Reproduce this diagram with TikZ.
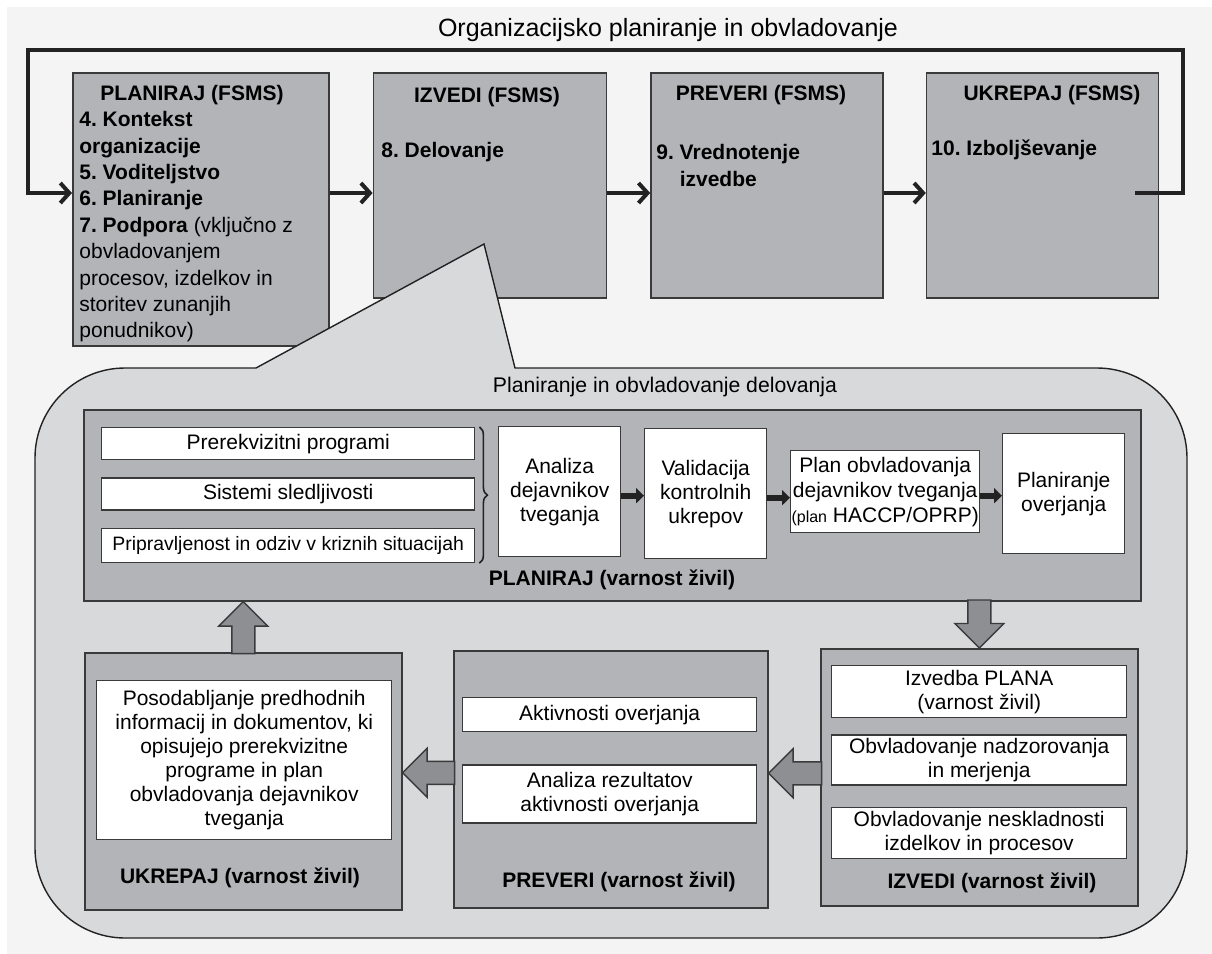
\documentclass[tikz,border=0pt]{standalone}
\usepackage{fontspec}
\setmainfont{Liberation Sans}
\usepackage{tikz}
\usetikzlibrary{arrows.meta,positioning,decorations.pathreplacing}
\usepackage{xcolor}
\definecolor{page-grey}{HTML}{F4F4F4}
\definecolor{box-grey}{HTML}{B3B4B7}
\definecolor{callout-grey}{HTML}{D8D9DB}
\definecolor{arrow-grey}{HTML}{8E8F93}
\definecolor{line-dark}{HTML}{222222}
\definecolor{edge-dark}{HTML}{3A3A3A}
\frenchspacing

\tikzset{pics/blockarrow/.style={code={
  \filldraw[draw=edge-dark, fill=arrow-grey, line width=0.7pt]
    (0,0) -- (-12.25pt,12.25pt) -- (-12.25pt,5.75pt) -- (-#1,5.75pt)
    -- (-#1,-5.75pt) -- (-12.25pt,-5.75pt) -- (-12.25pt,-12.25pt) -- cycle;}}}

\begin{document}
\begin{tikzpicture}[x=0.5pt, y=-0.5pt, >={Straight Barb[length=4.5pt,width=10pt]}]
  \tikzstyle{fsms}=[draw=edge-dark, fill=box-grey, line width=0.8pt, anchor=north west, inner sep=0pt]
  \tikzstyle{phase}=[draw=edge-dark, fill=box-grey, line width=0.8pt, anchor=north west, inner sep=0pt]
  \tikzstyle{wbox}=[draw=edge-dark, fill=white, line width=0.7pt, anchor=north west, inner sep=0pt, align=center, font=\fontsize{10.5}{12}\selectfont]
  \tikzstyle{fsmshead}=[inner sep=0pt, font=\bfseries\fontsize{10.5}{12.6}\selectfont]
  \tikzstyle{fsmsbody}=[inner sep=0pt, align=left, font=\bfseries\fontsize{10.5}{13.2}\selectfont]
  \tikzstyle{phaselabel}=[inner sep=0pt, font=\bfseries\fontsize{10.5}{12.6}\selectfont]
  \tikzstyle{flow}=[->, line width=2pt, draw=line-dark]
  \tikzstyle{loopline}=[->, line width=2pt, draw=line-dark, line join=miter]
  \tikzstyle{minorflow}=[-{Triangle[length=4pt,width=7.5pt]}, line width=3pt, draw=line-dark]

  \useasboundingbox (0,0) rectangle (1212,954);
  \fill[page-grey] (7,7) rectangle (1212,954);

  %% organisation level (FSMS)
  \node[font=\fontsize{12.5}{15}\selectfont] (orgtitle) at (668,30) {Organizacijsko planiranje in obvladovanje};

  \node[fsms, minimum width=128pt, minimum height=136.5pt] (pfsms) at (72,72) {};
  \node[fsms, minimum width=116.5pt, minimum height=112.5pt] (dfsms) at ([xshift=21.5pt]pfsms.north east) {};
  \node[fsms, minimum width=116pt, minimum height=112.5pt] (cfsms) at ([xshift=21.5pt]dfsms.north east) {};
  \node[fsms, minimum width=116pt, minimum height=112.5pt] (afsms) at ([xshift=21pt]cfsms.north east) {};

  \node[fsmshead] (phead) at (192,95) {PLANIRAJ (FSMS)};
  \node[fsmsbody, anchor=north west] (pbody) at (79,111)
    {4. Kontekst\\organizacije\\5. Voditeljstvo\\6. Planiranje\\7. Podpora {\mdseries (vključno z}\\
     {\mdseries obvladovanjem}\\{\mdseries procesov, izdelkov in}\\{\mdseries storitev zunanjih}\\{\mdseries ponudnikov)}};
  \node[fsmshead] (dhead) at (487,97) {IZVEDI (FSMS)};
  \node[fsmsbody, anchor=west] (dbody) at (381,152) {8. Delovanje};
  \node[fsmshead] (chead) at (761,95) {PREVERI (FSMS)};
  \node[fsmsbody, anchor=north west] (cbody) at (656,144) {9. Vrednotenje\\\phantom{9. }izvedbe};
  \node[fsmshead] (ahead) at (1052,95) {UKREPAJ (FSMS)};
  \node[fsmsbody, anchor=west] (abody) at (931,150) {10. Izboljševanje};

  \coordinate (top-lane) at (0,193);
  \draw[flow] (pfsms.east |- top-lane) -- (dfsms.west |- top-lane);
  \draw[flow] (dfsms.east |- top-lane) -- (cfsms.west |- top-lane);
  \draw[flow] (cfsms.east |- top-lane) -- (afsms.west |- top-lane);

  %% feedback loop
  \coordinate (loop-in) at (1135,193);
  \coordinate (loop-ne) at (1183,50);
  \coordinate (loop-nw) at (28,50);
  \draw[loopline] (loop-in) -| (loop-ne) -- (loop-nw) |- (pfsms.west |- top-lane);

  %% operational planning and control callout
  \filldraw[draw=line-dark, fill=callout-grey, line width=0.7pt]
    (515,368) -- (1097,368) arc[start angle=90, end angle=0, radius=45pt]
    -- (1187,848) arc[start angle=0, end angle=-90, radius=45pt]
    -- (125,938) arc[start angle=270, end angle=180, radius=45pt]
    -- (35,458) arc[start angle=180, end angle=90, radius=45pt]
    -- (256,368) -- (484,244) -- cycle;
  \node[font=\fontsize{10.6}{13}\selectfont] (optitle) at (665,387) {Planiranje in obvladovanje delovanja};

  %% PLANIRAJ (food safety)
  \node[phase, minimum width=528.5pt, minimum height=95.5pt] (pfood) at (83,409) {};
  \node[wbox, minimum width=186.5pt, minimum height=16pt] (prp) at (101,427) {Prerekvizitni programi};
  \node[wbox, minimum width=186.5pt, minimum height=16pt, below=8.5pt of prp] (trace) {Sistemi sledljivosti};
  \node[wbox, minimum width=186.5pt, minimum height=17pt, below=8.5pt of trace, font=\fontsize{9.7}{12}\selectfont] (crisis) {Pripravljenost in odziv v kriznih situacijah};
  \draw[line-dark, line width=0.8pt, decorate, decoration={brace, amplitude=4pt}]
    ([xshift=2pt]prp.north east) -- ([xshift=2pt]crisis.south east);

  \node[wbox, minimum width=61pt, minimum height=65pt] (hazard) at (498,426) {Analiza\\dejavnikov\\tveganja};
  \node[wbox, minimum width=61pt, minimum height=65pt] (valid) at (644,428) {Validacija\\kontrolnih\\ukrepov};
  \node[wbox, minimum width=94.5pt, minimum height=41pt, font=\fontsize{10.5}{12.5}\selectfont] (hplan) at (790,450)
    {Plan obvladovanja\\dejavnikov tveganja\\{\fontsize{8}{10}\selectfont(plan} HACCP/OPRP)};
  \node[wbox, minimum width=61pt, minimum height=60pt] (verplan) at (1002,433) {Planiranje\\overjanja};
  \node[phaselabel] (plabel) at (612,580) {PLANIRAJ (varnost živil)};

  \coordinate (h-out) at ([yshift=-2pt]hazard.east);
  \coordinate (v-out) at ([yshift=-2pt]valid.east);
  \coordinate (p-out) at ([yshift=-2pt]hplan.east);
  \draw[minorflow] (h-out) -- (h-out -| valid.west);
  \draw[minorflow] (v-out) -- (v-out -| hplan.west);
  \draw[minorflow] (p-out) -- (p-out -| verplan.west);

  %% IZVEDI, PREVERI, UKREPAJ (food safety)
  \node[phase, minimum width=158.5pt, minimum height=128.5pt] (dfood) at (820,648) {};
  \node[phase, minimum width=157pt, minimum height=128.5pt] (cfood) at (453,650) {};
  \node[phase, minimum width=158.5pt, minimum height=128.5pt] (afood) at (84,652) {};

  \node[wbox, minimum width=147.5pt, minimum height=26pt] (exec) at (831,665) {Izvedba PLANA\\(varnost živil)};
  \node[wbox, minimum width=147.5pt, minimum height=25pt, below=8pt of exec] (monit) {Obvladovanje nadzorovanja\\in merjenja};
  \node[wbox, minimum width=147.5pt, minimum height=25.5pt, below=10.5pt of monit] (noncon) {Obvladovanje neskladnosti\\izdelkov in procesov};
  \node[phaselabel] (dlabel) at (992,883) {IZVEDI (varnost živil)};

  \node[wbox, minimum width=147pt, minimum height=17pt] (veract) at (462,697) {Aktivnosti overjanja};
  \node[wbox, minimum width=147pt, minimum height=29pt, below=16pt of veract] (verres) {Analiza rezultatov\\aktivnosti overjanja};
  \node[phaselabel] (clabel) at (619,882) {PREVERI (varnost živil)};

  \node[wbox, minimum width=147.5pt, minimum height=79.5pt] (update) at (96,680)
    {Posodabljanje predhodnih\\informacij in dokumentov, ki\\opisujejo prerekvizitne\\programe in plan\\obvladovanja dejavnikov\\tveganja};
  \node[phaselabel] (alabel) at (240,878) {UKREPAJ (varnost živil)};

  %% block arrows round the cycle
  \pic[rotate=-90] at (dfood.north) {blockarrow=24pt};
  \pic[rotate=180] at ([yshift=3pt]cfood.east) {blockarrow=26.5pt};
  \pic[rotate=180] at ([yshift=4.25pt]afood.east) {blockarrow=26pt};
  \pic[rotate=90] at (afood.north |- pfood.south) {blockarrow=26pt};
\end{tikzpicture}
\end{document}
